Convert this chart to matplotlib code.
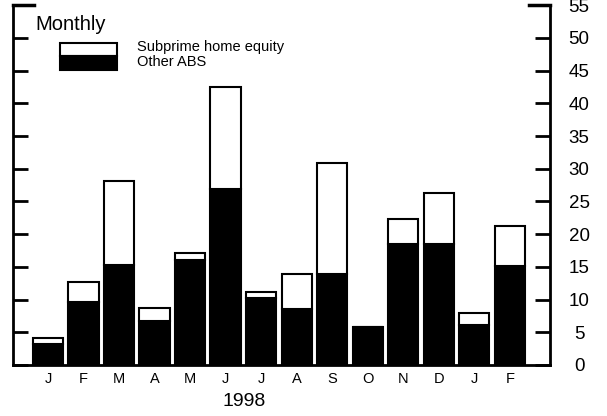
import numpy as np
import matplotlib
matplotlib.use("Agg")
import matplotlib.pyplot as plt
from matplotlib.patches import Rectangle

plt.rcParams['font.family'] = ['Liberation Sans', 'DejaVu Sans']

months = ["J", "F", "M", "A", "M", "J", "J", "A", "S", "O", "N", "D", "J", "F"]
total = [4.1, 12.7, 28.1, 8.7, 17.1, 42.5, 11.1, 13.9, 30.9, 5.8, 22.3, 26.3, 7.9, 21.2]
other_abs = [3.2, 9.6, 15.3, 6.7, 16.0, 26.9, 10.2, 8.6, 13.9, 5.8, 18.5, 18.5, 6.1, 15.1]
subprime = [t - o for t, o in zip(total, other_abs)]
yticks = [0, 5, 10, 15, 20, 25, 30, 35, 40, 45, 50, 55]

fig = plt.figure(figsize=(6.07, 4.16), dpi=100)
ax = fig.add_axes([0.021, 0.1226, 0.885, 0.865])

x = np.arange(len(months))
ax.bar(x, other_abs, width=0.85, color="black", edgecolor="black", linewidth=1.5)
ax.bar(x, subprime, bottom=other_abs, width=0.85, color="white", edgecolor="black", linewidth=1.5)

ax.set_xlim(-0.99, 14.13)
ax.set_ylim(0, 55)
ax.spines['top'].set_visible(False)
for s in ['left', 'right', 'bottom']:
    ax.spines[s].set_linewidth(2)

ax.set_yticks(yticks)
ax.yaxis.tick_right()
ax.tick_params(axis='y', which='both', left=True, right=True, labelleft=False, labelright=True,
               direction='in', length=11, width=2, labelsize=13.5, pad=21)
for lab in ax.get_yticklabels():
    lab.set_horizontalalignment('center')
ax.set_xticks(x)
ax.set_xticklabels(months, fontsize=10.5)
ax.tick_params(axis='x', length=0, pad=5)

# longer end ticks at the top of both spines
ax.plot([-0.99, -0.4], [55, 55], color='black', lw=2.5, clip_on=False)
ax.plot([13.55, 14.13], [55, 55], color='black', lw=2.5, clip_on=False)

fig.text(0.403, 0.035, "1998", fontsize=14, ha='center', va='center')

# legend drawn by hand
fig.text(0.058, 0.94, "Monthly", fontsize=14.5, ha='left', va='center')
fig.add_artist(Rectangle((0.0988, 0.865), 0.094, 0.032, transform=fig.transFigure,
                         facecolor='white', edgecolor='black', linewidth=1.5))
fig.add_artist(Rectangle((0.0988, 0.832), 0.094, 0.033, transform=fig.transFigure,
                         facecolor='black', edgecolor='black', linewidth=1.5))
fig.text(0.226, 0.887, "Subprime home equity", fontsize=10.5, ha='left', va='center')
fig.text(0.226, 0.851, "Other ABS", fontsize=10.5, ha='left', va='center')

fig.savefig("out.png", dpi=100)
